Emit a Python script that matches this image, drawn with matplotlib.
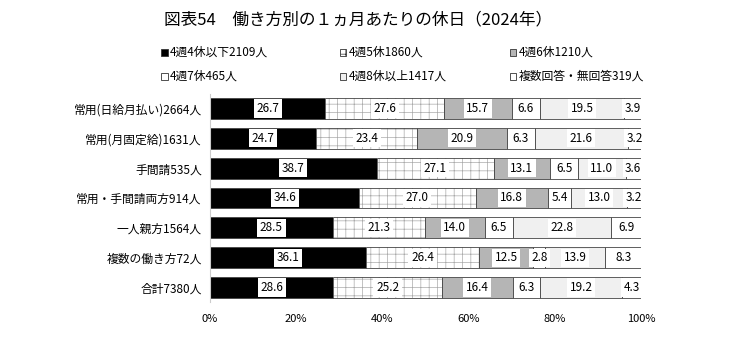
import numpy as np
import matplotlib
matplotlib.use("Agg")
import matplotlib.pyplot as plt
from matplotlib.patches import Rectangle

plt.rcParams["font.family"] = ["Noto Sans CJK JP", "DejaVu Sans"]
plt.rcParams["hatch.linewidth"] = 0.5

# données
categories = ["常用(日給月払い)2664人", "常用(月固定給)1631人", "手間請535人",
              "常用・手間請両方914人", "一人親方1564人", "複数の働き方72人", "合計7380人"]
series_names = ["4週4休以下2109人", "4週5休1860人", "4週6休1210人",
                "4週7休465人", "4週8休以上1417人", "複数回答・無回答319人"]
s_4w4 = [26.7, 24.7, 38.7, 34.6, 28.5, 36.1, 28.6]
s_4w5 = [27.6, 23.4, 27.1, 27.0, 21.3, 26.4, 25.2]
s_4w6 = [15.7, 20.9, 13.1, 16.8, 14.0, 12.5, 16.4]
s_4w7 = [6.6, 6.3, 6.5, 5.4, 6.5, 2.8, 6.3]
s_4w8 = [19.5, 21.6, 11.0, 13.0, 22.8, 13.9, 19.2]
s_other = [3.9, 3.2, 3.6, 3.2, 6.9, 8.3, 4.3]
series = [s_4w4, s_4w5, s_4w6, s_4w7, s_4w8, s_other]

# styles (fond, hachure)
styles = [("#000000", None), ("#ffffff", "++"), ("#b5b5b5", None),
          ("#ffffff", None), ("#f0f0f0", None), ("#ffffff", None)]

fig = plt.figure(figsize=(7.5, 3.55), dpi=100)
ax = fig.add_axes([0.28, 0.148, 0.5747, 0.5886])

y = np.arange(len(categories))
left = np.zeros(len(categories))
for vals, (fc, hatch) in zip(series, styles):
    vals = np.array(vals)
    if hatch:
        ax.barh(y, vals, left=left, height=0.7, color=fc, hatch=hatch,
                edgecolor="#aaaaaa", linewidth=0)
        ax.barh(y, vals, left=left, height=0.7, fill=False,
                edgecolor="#444444", linewidth=0.6)
    else:
        ax.barh(y, vals, left=left, height=0.7, color=fc,
                edgecolor="#444444", linewidth=0.6)
    for yi, l, v in zip(y, left, vals):
        ax.text(l + v / 2, yi, f"{v:.1f}", ha="center", va="center",
                fontsize=8.5, color="black",
                bbox=dict(boxstyle="square,pad=0.22", fc="white", ec="none"))
    left = left + vals

ax.set_xlim(0, 100)
ax.set_ylim(len(categories) - 0.5, -0.5)
ax.set_yticks(y)
ax.set_yticklabels(categories, fontsize=8.5)
ax.set_xticks([0, 20, 40, 60, 80, 100])
ax.set_xticklabels(["0%", "20%", "40%", "60%", "80%", "100%"], fontsize=8)
ax.tick_params(length=0, pad=6)
ax.tick_params(axis="x", pad=8)
for s in ["top", "right", "bottom"]:
    ax.spines[s].set_visible(False)
ax.spines["left"].set_color("#cccccc")
ax.spines["left"].set_linewidth(0.8)

# titre
fig.text(0.478, 0.945, "図表54　働き方別の１ヵ月あたりの休日（2024年）",
         ha="center", va="center", fontsize=12)

# légende manuelle
col_x = [0.215, 0.453, 0.68]
row_y = [0.853, 0.786]
for i, name in enumerate(series_names):
    fc, hatch = styles[i]
    x0 = col_x[i % 3]
    y0 = row_y[i // 3]
    fig.patches.append(Rectangle((x0, y0 - 0.01), 0.0085, 0.018,
                                 transform=fig.transFigure, facecolor=fc,
                                 edgecolor="#333333", linewidth=0.6,
                                 hatch=hatch))
    fig.text(x0 + 0.012, y0, name, ha="left", va="center", fontsize=8.5)

fig.savefig("out.png", dpi=100)
plt.close()
